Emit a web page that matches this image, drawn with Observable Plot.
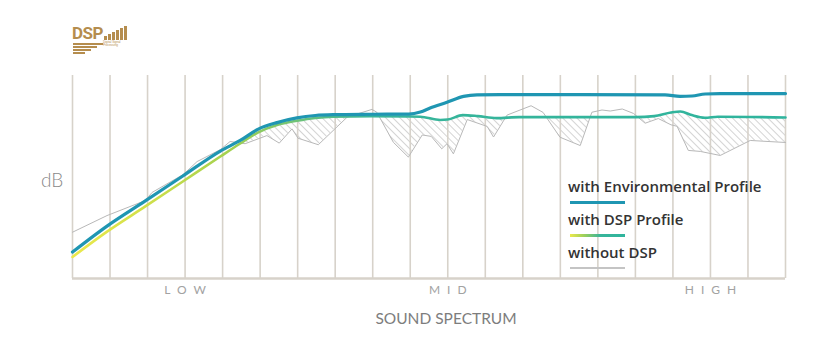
<!DOCTYPE html>
<html>
<head>
<meta charset="utf-8">
<script src="https://cdn.jsdelivr.net/npm/d3@7"></script>
<script src="https://cdn.jsdelivr.net/npm/@observablehq/plot@0.6"></script>
<style>
  html, body { margin: 0; padding: 0; background: #fff; }
  #wrap { position: relative; width: 840px; height: 361px; overflow: hidden; font-family: Lato, "Open Sans", sans-serif; }
  #chart { position: absolute; left: 0; top: 0; }
  #legend { position: absolute; left: 568px; top: 177px; color: #333; font-family: "Open Sans", Lato, sans-serif; font-weight: 600; font-size: 15px; }
  #legend .t { height: 18px; line-height: 18px; white-space: nowrap; }
  #legend .sw { width: 55px; height: 3px; margin: 6px 0 6px 2px; }
  #logo { position: absolute; left: 70px; top: 24px; width: 60px; height: 30px; color: #b58d4e; }
  #logo .dsp { position: absolute; left: 2px; top: 1px; font-family: "Liberation Sans Narrow", "Roboto", sans-serif; font-weight: 700; font-size: 17px; letter-spacing: -0.5px; line-height: 17px; }
  #logo .bar { position: absolute; background: #b58d4e; width: 3px; }
  #logo .step { position: absolute; background: #b58d4e; height: 2px; }
  #logo .tiny { position: absolute; left: 33px; top: 17px; font-size: 3px; line-height: 3px; font-family: sans-serif; }
</style>
</head>
<body>
<div id="wrap">
  <div id="chart"></div>
  <div id="logo"></div>
  <div id="legend"></div>
</div>
<script>
// ---- Data ----
const gridX = [0, 1, 2, 3, 4, 5, 6, 7, 8, 9, 10, 11, 12, 13, 14, 15, 16, 17, 18, 19];
const bandTicks = [3, 10, 17];
const bandLabels = ["LOW", "MID", "HIGH"];
const yLabel = "dB";
const xLabel = "SOUND SPECTRUM";
const seriesNames = ["with Environmental Profile", "with DSP Profile", "without DSP"];
const yDomain = [0, 100];

const envX = [0, 0.93, 1.94, 2.94, 3.94, 4.47, 4.95, 5.45, 5.98, 6.47, 6.95, 7.96, 8.96, 9.27, 9.53, 9.98, 10.42, 10.78, 11.4, 13.5, 15.79, 16.19, 16.51, 16.86, 17.26, 19];
const envY = [13.0, 25.9, 38.2, 50.5, 62.8, 68.0, 73.6, 76.8, 79.1, 80.3, 80.7, 80.9, 81.0, 82.0, 84.0, 86.8, 89.7, 90.5, 90.6, 90.6, 90.5, 89.7, 89.9, 90.9, 91.1, 91.1];

const dspX = [0, 0.93, 1.94, 2.94, 3.94, 4.47, 4.95, 5.45, 5.98, 6.47, 6.95, 7.96, 8.96, 9.27, 9.8, 10.0, 10.4, 10.8, 11.3, 11.9, 15.0, 15.5, 15.95, 16.2, 16.5, 16.85, 17.2, 19];
const dspY = [10.6, 23.2, 35.5, 47.8, 60.1, 66.5, 72.0, 75.6, 77.7, 79.1, 79.7, 79.9, 79.8, 79.7, 78.1, 78.3, 80.5, 80.0, 79.0, 79.5, 79.5, 80.0, 81.8, 82.3, 80.5, 79.2, 79.7, 79.3];

const rawX = [0, 0.92, 1.94, 2.12, 2.95, 3.32, 3.94, 4.2, 4.6, 5.18, 5.51, 5.85, 6.01, 6.55, 7.32, 7.98, 8.11, 8.55, 8.95, 9.32, 9.56, 9.84, 9.98, 10.15, 10.52, 11.05, 11.22, 11.58, 12.22, 12.54, 12.99, 13.53, 13.84, 14.11, 14.33, 14.65, 14.95, 15.26, 15.61, 15.95, 16.11, 16.41, 16.73, 17.26, 18.06, 19];
const rawY = [22.8, 31.0, 38.4, 42.4, 51.2, 57.6, 63.5, 67.5, 66.4, 70.4, 66.7, 73.7, 69.1, 65.9, 79.5, 83.3, 81.9, 67.1, 59.8, 70.7, 70.0, 63.9, 66.4, 61.4, 78.3, 74.9, 69.7, 80.5, 85.1, 81.8, 69.6, 65.5, 81.9, 83.0, 82.5, 83.5, 81.3, 76.5, 78.8, 75.7, 75.0, 63.1, 62.6, 60.6, 68.0, 67.0];

const colors = { env: "#1f96b2", raw: "#b8b8b8", grid: "#d7d2ca", hatch: "#c9c9c9" };

// ---- Build rows ----
const envRows = envX.map((x, i) => ({x, y: envY[i]}));
const dspRows = dspX.map((x, i) => ({x, y: dspY[i]}));
const rawRows = rawX.map((x, i) => ({x, y: rawY[i]}));
const yTop = yDomain[1];

const svg = Plot.plot({
  width: 840,
  height: 345,
  marginLeft: 72,
  marginRight: 55,
  marginTop: 75,
  marginBottom: 67,
  style: { fontFamily: "Lato, sans-serif", background: "white" },
  x: { domain: [gridX[0], gridX[gridX.length - 1]], axis: null },
  y: { domain: yDomain, axis: null },
  marks: [
    Plot.areaY(rawRows, { x: "x", y1: "y", y2: yTop, fill: "url(#hatch)" }),
    Plot.areaY(dspRows, { x: "x", y1: "y", y2: yTop, fill: "white", curve: "monotone-x" }),
    Plot.ruleX(gridX, { stroke: colors.grid, strokeWidth: 1.6 }),
    Plot.ruleY([yDomain[0]], { stroke: colors.grid, strokeWidth: 2.6 }),
    Plot.line(rawRows, { x: "x", y: "y", stroke: colors.raw, strokeWidth: 1 }),
    Plot.line(dspRows, { x: "x", y: "y", stroke: "url(#dspGrad)", strokeWidth: 2.6, curve: "monotone-x" }),
    Plot.line(envRows, { x: "x", y: "y", stroke: colors.env, strokeWidth: 3.2, curve: "monotone-x" }),
    Plot.text(bandTicks, { x: d => d, frameAnchor: "bottom", dx: 3.5, dy: 15, text: d => bandLabels[bandTicks.indexOf(d)], fill: "#a2a2a2", fontSize: 12 }),
    Plot.text([xLabel], { frameAnchor: "bottom", dx: 17, dy: 45, text: d => d, fill: "#7d7d7d", fontSize: 15.5 }),
    Plot.text([yLabel], { frameAnchor: "left", dx: -31.5, dy: 4, text: d => d, fill: "#8a8a8a", fontSize: 19, fontWeight: 300 })
  ]
});

// defs: hatch pattern and gradient
const s = d3.select(svg);
const defs = s.insert("defs", ":first-child");
const pat = defs.append("pattern").attr("id", "hatch").attr("patternUnits", "userSpaceOnUse")
  .attr("width", 5).attr("height", 5).attr("patternTransform", "rotate(45)");
pat.append("rect").attr("x", 0).attr("y", 0).attr("width", 5).attr("height", 0.8).attr("fill", colors.hatch);
const grad = defs.append("linearGradient").attr("id", "dspGrad").attr("x1", "0").attr("x2", "1").attr("y1", "0").attr("y2", "0");
[[0, "#ebe94c"], [0.1, "#d2e04a"], [0.22, "#a3d14f"], [0.32, "#6cc27a"], [0.42, "#38b59a"], [1, "#2fb49d"]]
  .forEach(([o, c]) => grad.append("stop").attr("offset", o).attr("stop-color", c));

s.selectAll("text").filter(function() { return bandLabels.includes(this.textContent); })
  .style("letter-spacing", "7px");

document.getElementById("chart").appendChild(svg);

// legend
const legend = d3.select("#legend");
const swatches = [colors.env, "linear-gradient(to right, #ebe94c 0%, #9fd05a 25%, #38b59a 55%, #2fb49d 100%)", "#c4c4c4"];
seriesNames.forEach((name, i) => {
  legend.append("div").attr("class", "t").text(name);
  legend.append("div").attr("class", "sw").style("background", swatches[i]).style("height", i === 2 ? "2px" : "3px");
});

// logo (decorative)
const logo = d3.select("#logo");
logo.append("div").attr("class", "dsp").text("DSP");
const barH = [4, 6, 8, 10, 12, 14];
barH.forEach((h, i) => logo.append("div").attr("class", "bar").style("left", (34 + i * 4) + "px").style("top", (16 - h) + "px").style("height", h + "px"));
const stepW = [30, 24, 18, 12];
stepW.forEach((w, i) => logo.append("div").attr("class", "step").style("left", "3px").style("top", (19 + i * 3) + "px").style("width", w + "px"));
logo.append("div").attr("class", "tiny").text("Digital Signal Processing");
</script>
</body>
</html>
